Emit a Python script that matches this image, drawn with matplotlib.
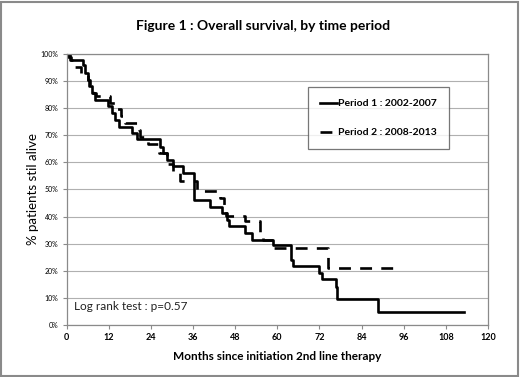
import numpy as np
import matplotlib.pyplot as plt
from matplotlib.ticker import FuncFormatter

# Kaplan-Meier curves (months, % alive)
t_p1 = [0, 0.5, 1.4, 4.8, 5.3, 6.0, 6.5, 7.2, 8.1, 11.9, 12.9, 13.8, 14.8, 18.6, 20.0,
        26.5, 27.6, 28.6, 30.3, 33.1, 36.2, 40.9, 44.2, 45.6, 46.3, 50.9, 52.9,
        58.9, 63.8, 64.5, 72.0, 72.6, 76.7, 77.1, 88.8, 113.2]
s_p1 = [100, 99.0, 97.8, 96.0, 92.9, 90.4, 88.0, 85.5, 83.0, 80.6, 78.1, 75.6, 73.2, 70.7, 68.5,
        65.8, 63.3, 60.9, 58.7, 56.0, 46.1, 43.7, 41.2, 38.7, 36.4, 33.9, 31.5,
        29.4, 24.0, 21.8, 19.0, 16.8, 14.1, 9.6, 4.8, 4.8]

t_p2 = [0, 1.0, 2.5, 4.0, 6.0, 6.8, 7.5, 8.5, 12.4, 14.5, 15.5, 16.5, 20.5, 21.0,
        23.2, 26.2, 28.5, 29.0, 30.4, 32.3, 37.2, 43.7, 44.8, 45.5, 50.7, 55.0,
        56.0, 59.0, 74.5, 93.2]
s_p2 = [100, 97.6, 95.2, 92.9, 90.5, 88.1, 85.7, 84.5, 82.0, 79.5, 77.0, 74.5, 72.0, 69.5,
        66.8, 63.5, 61.0, 59.5, 56.2, 53.1, 49.6, 47.0, 43.4, 40.2, 38.5, 33.8,
        31.4, 28.3, 21.0, 21.0]

x_ticks = np.arange(0, 121, 12)
y_ticks = np.arange(0, 101, 10)

plt.rcParams['font.family'] = ['Lato', 'DejaVu Sans']

fig = plt.figure(figsize=(5.2, 3.77), dpi=100)
ax = fig.add_axes([0.128, 0.138, 0.8105, 0.719])

ax.step(t_p1, s_p1, where='post', color='black', lw=1.9, label='Period 1 : 2002-2007')
ax.step(t_p2, s_p2, where='post', color='black', lw=1.9, dashes=(4.5, 3.5),
        label='Period 2 : 2008-2013')

ax.set_xlim(0, 120)
ax.set_ylim(0, 100)
ax.set_xticks(x_ticks)
ax.set_yticks(y_ticks)
ax.yaxis.set_major_formatter(FuncFormatter(lambda v, p: '%d%%' % v))
ax.grid(axis='y', color='#b0b0b0', lw=0.8)
ax.set_axisbelow(True)
for sp in ax.spines.values():
    sp.set_color('#8a8a8a')
    sp.set_linewidth(0.9)
ax.tick_params(axis='y', labelsize=5, length=3, color='#8a8a8a', pad=3)
ax.tick_params(axis='x', labelsize=6.5, length=3, color='#8a8a8a', pad=3)
for lab in ax.get_xticklabels():
    lab.set_fontweight('bold')

ax.set_xlabel('Months since initiation 2nd line therapy', fontsize=8.5,
              fontweight='bold', labelpad=6)
ax.set_ylabel('% patients stil alive', fontsize=9.5, labelpad=1)

ax.text(2, 5.5, 'Log rank test : p=0.57', fontsize=8.5, color='#222222')

leg = ax.legend(loc='upper right', bbox_to_anchor=(0.907, 0.878), fontsize=7.5,
                frameon=True, fancybox=False, edgecolor='#555555',
                handlelength=1.6, handletextpad=0.1, labelspacing=1.9,
                borderpad=1.15, borderaxespad=0)
leg.get_frame().set_linewidth(0.9)
for txt in leg.get_texts():
    txt.set_fontweight('bold')

fig.text(0.505, 0.932, 'Figure 1 : Overall survival, by time period', ha='center',
         va='center', fontsize=10, fontweight='bold')

# grey frame around the picture
fig.patches.append(plt.Rectangle((0.002, 0.003), 0.995, 0.993, transform=fig.transFigure,
                                 fill=False, edgecolor='#8a8a8a', lw=1.5))

fig.savefig('out.png', dpi=100)
